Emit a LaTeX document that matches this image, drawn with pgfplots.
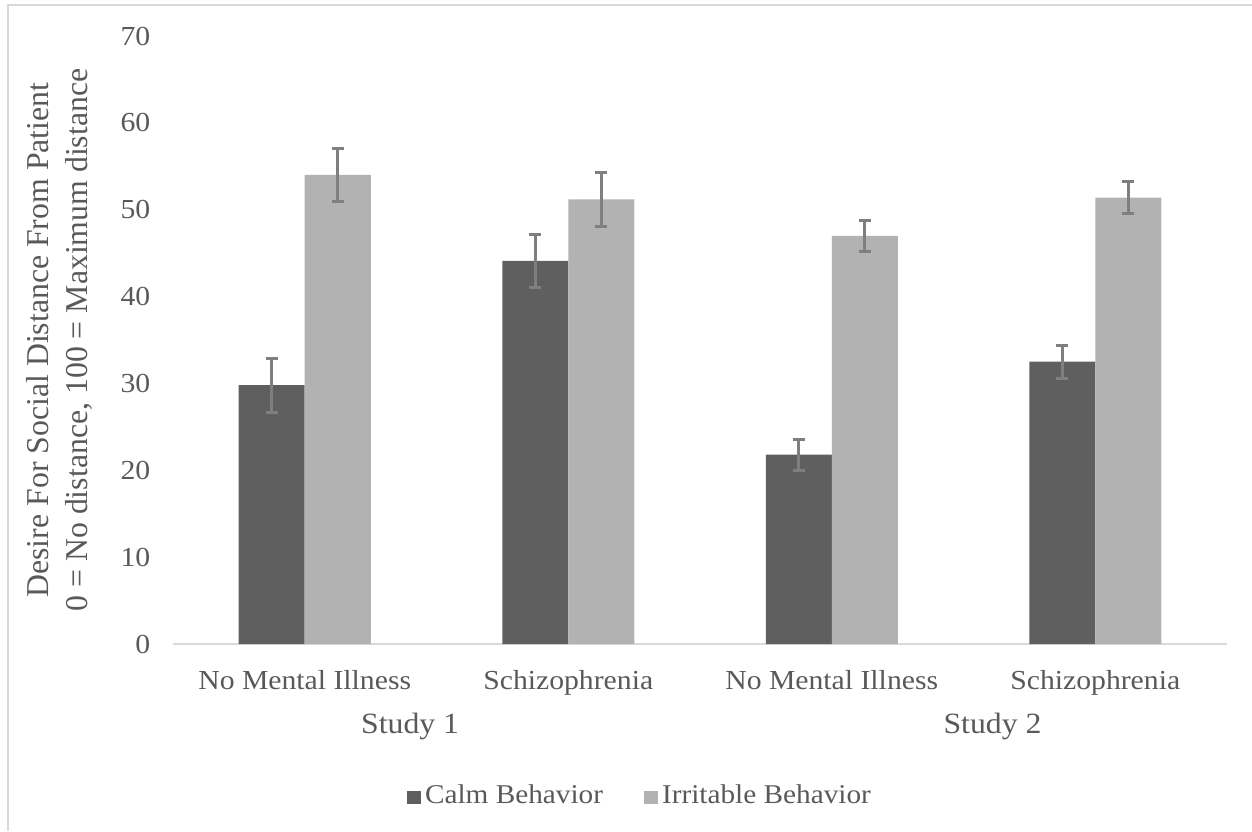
\documentclass[border=0pt]{standalone}
\usepackage{fontspec}
\setmainfont{Liberation Serif}[FakeStretch=1.08]
\newfontfamily\ylabfont{Liberation Serif}
\usepackage{pgfplots}
\usepackage{pgfplotstable}
\pgfplotsset{compat=1.18}
\definecolor{calm}{HTML}{5F5F5F}
\definecolor{irr}{HTML}{B2B2B2}
\definecolor{errc}{HTML}{7F7F7F}
\definecolor{txt}{HTML}{595959}
\definecolor{axl}{HTML}{D9D9D9}

\pgfplotstableread{
x y e
0 29.8 3.1
1 44.1 3.1
2 21.8 1.8
3 32.5 1.9
}\calmtab
\pgfplotstableread{
x y e
0 54.0 3.1
1 51.2 3.1
2 47.0 1.8
3 51.4 1.8
}\irrtab

\begin{document}
\begin{tikzpicture}
\useasboundingbox (-86.5pt,-93.5pt) rectangle (539.5pt,322pt);
\draw[axl, line width=1pt] (-82.25pt,-93.5pt) -- (-82.25pt,319.25pt) -- (539.5pt,319.25pt);
\begin{axis}[
  at={(0pt,0pt)}, anchor=south west,
  scale only axis, width=527pt, height=304pt,
  ybar=0pt, bar width=33pt,
  xmin=-0.5, xmax=3.5, ymin=0, ymax=70,
  ytick={0,10,...,70},
  xtick={0,1,2,3},
  xticklabels={No Mental Illness, Schizophrenia, No Mental Illness, Schizophrenia},
  axis x line*=bottom, axis y line*=left,
  x axis line style={draw=axl, line width=1pt, -},
  y axis line style={draw=none},
  major tick length=0pt, tick style={draw=none},
  /pgf/number format/assume math mode=true,
  ticklabel style={font=\fontsize{13.75}{16}\selectfont, text=txt},
  xticklabel style={anchor=base, yshift=-22.5pt},
  yticklabel style={anchor=east, inner sep=0pt, xshift=-11.15pt},
  ylabel={Desire For Social Distance From Patient\\0 = No distance, 100 = Maximum distance},
  ylabel style={at={([xshift=-56.75pt]axis description cs:0,0.5)}, anchor=center, align=center,
    font=\ylabfont\fontsize{15.9}{19.5}\selectfont, text=txt},
  clip=false,
  legend columns=2,
  legend cell align=left,
  legend style={at={(axis description cs:0.444,-0.249)}, anchor=center, draw=none, fill=none,
    font=\fontsize{13.55}{16}\selectfont, text=txt,
    nodes={inner xsep=2pt},
    /tikz/every even column/.append style={column sep=18.5pt}},
]
\addplot[fill=calm, draw=none,
  legend image code/.code={\fill[calm] (0pt,-4.25pt) rectangle (7pt,2.25pt);},
  error bars/.cd, y dir=both, y explicit,
  error bar style={line width=1.5pt, errc},
  error mark options={rotate=90, line width=1.5pt, mark size=3pt, errc}]
  table[x=x, y=y, y error=e] {\calmtab};
\addlegendentry{Calm Behavior}
\addplot[fill=irr, draw=none,
  legend image code/.code={\fill[irr] (0pt,-4.25pt) rectangle (7pt,2.25pt);},
  error bars/.cd, y dir=both, y explicit,
  error bar style={line width=1.5pt, errc},
  error mark options={rotate=90, line width=1.5pt, mark size=3pt, errc}]
  table[x=x, y=y, y error=e] {\irrtab};
\addlegendentry{Irritable Behavior}
\node[anchor=base, text=txt, font=\fontsize{14.7}{17}\selectfont] at ([yshift=-44.5pt]axis cs:0.40,0) {Study 1};
\node[anchor=base, text=txt, font=\fontsize{14.7}{17}\selectfont] at ([yshift=-44.5pt]axis cs:2.61,0) {Study 2};
\end{axis}
\end{tikzpicture}
\end{document}
